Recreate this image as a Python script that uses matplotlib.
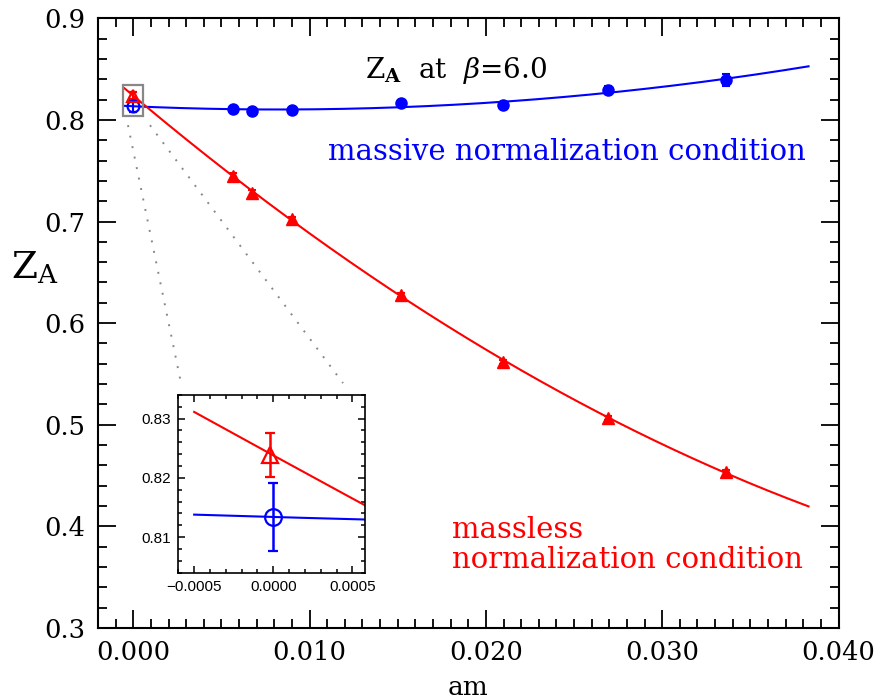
import numpy as np
import matplotlib

matplotlib.use("Agg")
import matplotlib.pyplot as plt
from matplotlib.patches import Rectangle
from matplotlib.ticker import MultipleLocator, FormatStrFormatter, FuncFormatter

plt.rcParams["font.family"] = ["DejaVu Serif"]
plt.rcParams["mathtext.fontset"] = "dejavuserif"

# bare quark mass am and Z_A values
am = [0.00564, 0.00672, 0.00898, 0.01521, 0.02098, 0.02692, 0.03360]
za_massive = [0.8105, 0.8090, 0.8095, 0.8165, 0.8150, 0.8290, 0.8390]
err_massive = [0.0025, 0.0025, 0.0025, 0.0030, 0.0030, 0.0040, 0.0058]
za_massless = [0.7450, 0.7280, 0.7020, 0.6280, 0.5620, 0.5070, 0.4530]
err_massless = [0.0030, 0.0030, 0.0020, 0.0020, 0.0020, 0.0020, 0.0020]

# chiral-limit values (am = 0)
chiral_am_massive = 0.0
chiral_massive = 0.8134
chiral_err_massive = 0.0058
chiral_am_massless = -0.00002
chiral_massless = 0.8238
chiral_err_massless = 0.0037

fit_range = (-0.0005, 0.0383)
inset_xlim = (-0.0006, 0.00058)
inset_ylim = (0.804, 0.834)

BLUE = "#0000ff"
RED = "#ff0000"


def quad_fit(x, y, err, intercept):
    # quadratic in am, constrained through the chiral-limit value
    x = np.asarray(x)
    w = 1.0 / np.asarray(err)
    A = np.column_stack([x, x ** 2]) * w[:, None]
    rhs = (np.asarray(y) - intercept) * w
    (b, c), *_ = np.linalg.lstsq(A, rhs, rcond=None)
    return lambda t: intercept + b * t + c * t ** 2


fit_massive = quad_fit(am, za_massive, err_massive, chiral_massive)
fit_massless = quad_fit(am, za_massless, err_massless, chiral_massless)
xs = np.linspace(fit_range[0], fit_range[1], 400)

fig = plt.figure(figsize=(8.82, 7.0), dpi=100)
ax = fig.add_axes([0.1111, 0.1029, 0.8396, 0.8710])


def draw(a, ms_fill, ms_open, cap, lw_err):
    a.plot(xs, fit_massive(xs), color=BLUE, lw=1.5, zorder=2)
    a.plot(xs, fit_massless(xs), color=RED, lw=1.5, zorder=2)
    a.errorbar(am, za_massive, yerr=err_massive, fmt="o", color=BLUE,
               ms=ms_fill, capsize=cap, elinewidth=lw_err, capthick=lw_err, zorder=3)
    a.errorbar(am, za_massless, yerr=err_massless, fmt="^", color=RED,
               ms=ms_fill, capsize=cap, elinewidth=lw_err, capthick=lw_err, zorder=3)
    a.errorbar([chiral_am_massive], [chiral_massive], yerr=[chiral_err_massive],
               fmt="o", mfc="none", mec=BLUE, color=BLUE, ms=ms_open, mew=1.6,
               capsize=cap, elinewidth=lw_err, capthick=lw_err, zorder=4)
    a.errorbar([chiral_am_massless], [chiral_massless], yerr=[chiral_err_massless],
               fmt="^", mfc="none", mec=RED, color=RED, ms=ms_open, mew=1.6,
               capsize=cap, elinewidth=lw_err, capthick=lw_err, zorder=4)


draw(ax, 8, 8.5, 2.8, 1.5)
ax.set_xlim(-0.002, 0.040)
ax.set_ylim(0.3, 0.9)
ax.xaxis.set_major_locator(MultipleLocator(0.010))
ax.xaxis.set_minor_locator(MultipleLocator(0.001))
ax.yaxis.set_major_locator(MultipleLocator(0.1))
ax.yaxis.set_minor_locator(MultipleLocator(0.02))
ax.xaxis.set_major_formatter(FormatStrFormatter("%.3f"))
ax.yaxis.set_major_formatter(FormatStrFormatter("%.1f"))
ax.tick_params(which="both", direction="in", top=True, right=True,
               width=1.3, labelsize=18.5, pad=9)
ax.tick_params(which="major", length=13)
ax.tick_params(which="minor", length=6.5)
for s in ax.spines.values():
    s.set_linewidth(1.5)
ax.set_xlabel("am", fontsize=19, labelpad=7)
ax.set_ylabel(r"$\mathrm{Z_A}$", fontsize=27, rotation=0, labelpad=12)
ax.yaxis.set_label_coords(-0.085, 0.56)

ax.text(0.4828, 0.915, r"$\mathrm{Z_{\mathbf{A}}}$  at  $\beta$=6.0",
        transform=ax.transAxes, ha="center", va="center", fontsize=20)
ax.text(0.956, 0.780, "massive normalization condition", transform=ax.transAxes,
        ha="right", va="center", fontsize=21, color=BLUE)
ax.text(0.478, 0.161, "massless", transform=ax.transAxes,
        ha="left", va="center", fontsize=21, color=RED)
ax.text(0.478, 0.111, "normalization condition", transform=ax.transAxes,
        ha="left", va="center", fontsize=21, color=RED)

# zoom box and guide lines
ax.add_patch(Rectangle((inset_xlim[0], inset_ylim[0]), inset_xlim[1] - inset_xlim[0],
                       inset_ylim[1] - inset_ylim[0], fill=False,
                       ec="#888888", lw=1.6, zorder=5))
for x0, y0, x1, y1 in [(0.0405, 0.8246, 0.1121, 0.4016),
                       (0.0702, 0.8246, 0.3309, 0.4016)]:
    ax.plot([x0, x1], [y0, y1], transform=ax.transAxes, color="#888888",
            lw=1.4, ls=(0, (1, 4.5)), zorder=1)

ins = fig.add_axes([0.2022, 0.1819, 0.2117, 0.2539])
draw(ins, 8, 12, 3.5, 1.8)
ins.set_xlim(*inset_xlim)
ins.set_ylim(*inset_ylim)
ins.xaxis.set_major_locator(MultipleLocator(0.0005))
ins.xaxis.set_minor_locator(MultipleLocator(0.0001))
ins.yaxis.set_major_locator(MultipleLocator(0.01))
ins.yaxis.set_minor_locator(MultipleLocator(0.002))
ins.xaxis.set_major_formatter(
    FuncFormatter(lambda v, _: f"{v:.4f}".replace("-", "\u2212")))
ins.yaxis.set_major_formatter(FormatStrFormatter("%.2f"))
ins.tick_params(which="both", direction="in", top=True, right=True, width=1.1,
                labelsize=11, pad=5)
ins.tick_params(which="major", length=5)
ins.tick_params(which="minor", length=3)
for lab in ins.get_xticklabels() + ins.get_yticklabels():
    lab.set_family("Liberation Sans")
for s in ins.spines.values():
    s.set_linewidth(1.2)

fig.savefig("out.png", dpi=100)
